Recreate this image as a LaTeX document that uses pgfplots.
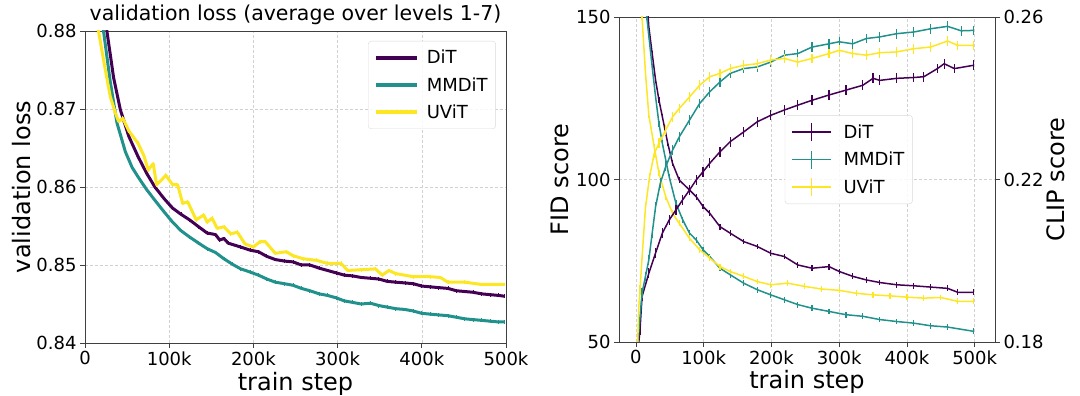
\documentclass[border=0pt]{standalone}
\usepackage{pgfplots}
\pgfplotsset{compat=1.18}
\usepackage{fontspec}
\setmainfont{DejaVu Sans}
\definecolor{cDiT}{HTML}{440154}
\definecolor{cMM}{HTML}{21918C}
\definecolor{cUV}{HTML}{FDE725}
\pgfplotsset{
  base/.style={
    scale only axis,
    anchor=south west,
    /pgf/number format/assume math mode=true,
    tick label style={font=\fontsize{18}{20}\selectfont},
    label style={font=\fontsize{24}{26}\selectfont},
    axis line style={black!75, line width=0.8pt},
    tick style={black!75, line width=0.8pt},
    major tick length=5pt,
    tick align=outside,
    grid=major,
    major grid style={densely dashed, black!18, line width=0.6pt},
  },
}
\begin{document}
\begin{tikzpicture}
\useasboundingbox (0,0) rectangle (1080pt,396pt);
% ---------------- left panel ----------------
\begin{axis}[base,
  at={(85pt,53pt)}, width=421pt, height=312pt,
  xmin=0, xmax=500, ymin=0.84, ymax=0.88,
  xtick={0,100,200,300,400,500},
  xticklabels={0,100k,200k,300k,400k,500k},
  ytick={0.84,0.85,0.86,0.87,0.88},
  yticklabels={0.84,0.85,0.86,0.87,0.88},
  xtick pos=bottom, ytick pos=left,
  xlabel={train step}, ylabel={validation loss},
  xlabel style={at={(axis description cs:0.5,-0.131)}, anchor=center},
  ylabel style={at={(axis description cs:-0.151,0.5)}, anchor=center},
  title={validation loss (average over levels 1-7)},
  title style={font=\fontsize{20.5}{22}\selectfont, yshift=-3pt},
  legend style={at={(0.976,0.968)}, anchor=north east, draw=black!15,
    rounded corners=3pt, font=\fontsize{18}{21}\selectfont,
    row sep=8pt, inner xsep=6pt, inner ysep=7pt, fill=white, fill opacity=0.85, text opacity=1,
    /tikz/every odd column/.append style={column sep=6pt}},
  legend cell align=left,
  legend image code/.code={\draw[#1, line width=3.5pt] (0pt,0pt) -- (41pt,0pt);},
  every axis plot/.append style={line width=3pt, line join=round,
    error bars/y dir=both, error bars/y fixed=0.00025, error bars/error mark=none,
    error bars/error bar style={line width=0.8pt}},
]
\addplot[cDiT, mark=none] coordinates {
(15,0.8950)(26,0.8800)(34,0.8740)(42,0.8699)(52,0.8665)(63,0.8639)(73,0.8618)
(83,0.8600)(94,0.8585)(104,0.8573)(114,0.8565)(124,0.8558)(135,0.8549)
(145,0.8541)(155,0.8539)(160,0.8532)(165,0.8534)(170,0.8528)(185,0.8523)
(196,0.8519)(206,0.8517)(216,0.8511)(226,0.8507)(237,0.8505)(247,0.8504)
(257,0.8500)(267,0.8500)(278,0.8496)(288,0.8493)(298,0.8490)(308,0.8487)
(318,0.8486)(328,0.8484)(339,0.8483)(349,0.8482)(359,0.8479)(369,0.8478)
(380,0.8477)(390,0.8476)(400,0.8473)(410,0.8472)(420,0.8471)(431,0.8470)
(441,0.8467)(451,0.8466)(461,0.8465)(471,0.8463)(481,0.8462)(491,0.8461)(498,0.8460)};
\addlegendentry{DiT}
\addplot[cMM, mark=none] coordinates {
(10,0.8970)(22,0.8800)(30,0.8735)(38,0.8682)(48,0.8645)(56,0.8625)(63,0.8613)
(73,0.8597)(83,0.8583)(94,0.8568)(104,0.8555)(114,0.8544)(124,0.8536)
(135,0.8528)(145,0.8521)(155,0.8516)(165,0.8508)(175,0.8501)(185,0.8495)
(196,0.8491)(206,0.8487)(216,0.8482)(226,0.8478)(237,0.8476)(247,0.8474)
(257,0.8470)(267,0.8467)(278,0.8463)(288,0.8461)(298,0.8458)(308,0.8454)
(318,0.8452)(328,0.8450)(339,0.8451)(349,0.8448)(359,0.8446)(369,0.8444)
(380,0.8443)(390,0.8441)(400,0.8438)(410,0.8437)(420,0.8436)(431,0.8435)
(441,0.8433)(451,0.8431)(461,0.8430)(471,0.8429)(481,0.8428)(491,0.8427)(498,0.8427)};
\addlegendentry{MMDiT}
\addplot[cUV, mark=none] coordinates {
(5,0.9000)(16,0.8800)(23,0.8757)(30,0.8716)(36,0.8695)(40,0.8684)(45,0.8688)
(52,0.8672)(63,0.8656)(70,0.8640)(75,0.8622)(81,0.8630)(85,0.8603)(90,0.8608)
(96,0.8615)(104,0.8603)(110,0.8603)(116,0.8579)(122,0.8581)(132,0.8558)
(141,0.8564)(145,0.8555)(151,0.8560)(157,0.8547)(165,0.8549)(173,0.8540)
(181,0.8542)(190,0.8527)(200,0.8523)(208,0.8530)(214,0.8530)(226,0.8515)
(239,0.8517)(247,0.8512)(259,0.8508)(275,0.8506)(288,0.8502)(304,0.8502)
(312,0.8493)(328,0.8494)(345,0.8495)(353,0.8487)(361,0.8493)(369,0.8489)
(390,0.8485)(410,0.8485)(422,0.8484)(431,0.8478)(451,0.8478)(471,0.8475)(498,0.8475)};
\addlegendentry{UViT}
\end{axis}
% ---------------- right panel: FID ----------------
\begin{axis}[base,
  at={(619pt,54pt)}, width=376pt, height=325pt,
  xmin=-25, xmax=530, ymin=50, ymax=150,
  xtick={0,100,200,300,400,500},
  xticklabels={0,100k,200k,300k,400k,500k},
  ytick={50,100,150},
  xtick pos=bottom, ytick pos=left,
  xlabel={train step}, ylabel={FID score},
  xlabel style={at={(axis description cs:0.5,-0.122)}, anchor=center},
  ylabel style={at={(axis description cs:-0.157,0.5)}, anchor=center},
  every axis plot/.append style={line width=1.5pt, line join=round,
    error bars/y dir=both, error bars/y fixed=0.9, error bars/error mark=none,
    error bars/error bar style={line width=1.2pt}},
]
\addplot[cDiT, mark=none] coordinates {
(10,175)(19,147)(24,138.7)(29,130.6)(34,124.4)(39,119.3)(47,111.1)(54,105)
(64,99.8)(79,96.8)(89,94.7)(99,91.7)(109,89.6)(124,85.5)(139,83.5)(159,80.9)
(179,79.4)(199,77.3)(219,76.3)(239,73.7)(260,72.7)(285,73.2)(300,71.7)
(320,70.2)(340,69.1)(360,68.3)(385,67.6)(410,67.3)(435,66.9)(460,66.5)
(475,65.3)(498,65.3)};
\addplot[cMM, mark=none] coordinates {
(8,175)(16,150)(24,134.6)(29,125.4)(34,117.2)(39,111.1)(44,106)(49,100.9)
(59,92.7)(69,87.6)(79,83.5)(89,81.4)(99,78.4)(109,76.3)(124,72.7)(139,70.7)
(159,68.1)(179,66.1)(199,64.5)(219,63)(239,61.5)(260,60.4)(285,59.4)
(310,58.4)(335,57.9)(360,56.9)(385,56.3)(410,55.8)(435,55.0)(460,54.6)(498,53.3)};
\addplot[cUV, mark=none] coordinates {
(4,175)(9,150)(14,133)(19,119.8)(27,110)(34,101.9)(44,94.7)(54,89.6)(64,86.5)
(79,81.9)(94,78.4)(109,75.8)(124,73.2)(139,71.7)(159,70.2)(179,68.6)
(199,67.6)(224,68.1)(249,67.1)(274,66.3)(300,65.9)(325,65.0)(350,64.5)
(375,64.2)(400,63.8)(425,63.5)(450,63.7)(475,62.5)(498,62.5)};
\end{axis}
% ---------------- right panel: CLIP ----------------
\begin{axis}[base,
  at={(619pt,54pt)}, width=376pt, height=325pt,
  xmin=-25, xmax=530, ymin=0.18, ymax=0.26,
  axis x line=none, axis y line*=right, grid=none,
  ytick={0.18,0.22,0.26},
  yticklabels={0.18,0.22,0.26},
  ylabel={CLIP score},
  ylabel style={at={(axis description cs:1.162,0.5)}, anchor=center},
  legend style={at={(0.441,0.698)}, anchor=north west, draw=black!15,
    rounded corners=3pt, font=\fontsize{18}{21}\selectfont,
    row sep=8pt, inner xsep=6pt, inner ysep=7pt, fill=white, fill opacity=0.85, text opacity=1,
    /tikz/every odd column/.append style={column sep=10pt}},
  legend cell align=left,
  legend image code/.code={\draw[#1, line width=1.5pt] (0pt,0pt) -- (39pt,0pt);
    \draw[#1, line width=1.5pt] (19.5pt,-9pt) -- (19.5pt,9pt);},
  every axis plot/.append style={line width=1.5pt, line join=round,
    error bars/y dir=both, error bars/y fixed=0.0012, error bars/error mark=none,
    error bars/error bar style={line width=1.2pt}},
]
\addplot[cDiT, mark=none] coordinates {
(2,0.176)(6,0.183)(9,0.1912)(19,0.1969)(29,0.2019)(39,0.2068)(49,0.2100)
(59,0.2125)(69,0.2150)(79,0.2174)(89,0.2199)(99,0.2219)(109,0.2240)
(124,0.2268)(139,0.2293)(159,0.2317)(179,0.2342)(199,0.2358)(219,0.2371)
(239,0.2383)(260,0.2395)(285,0.2408)(310,0.2420)(335,0.2432)(350,0.2449)
(360,0.2444)(385,0.2449)(410,0.2451)(425,0.2453)(445,0.2473)(455,0.2485)
(470,0.2473)(498,0.2481)};
\addlegendentry{DiT}
\addplot[cMM, mark=none] coordinates {
(2,0.176)(4,0.1822)(9,0.1920)(14,0.1961)(19,0.2002)(24,0.2068)(29,0.2133)
(36,0.2191)(44,0.2232)(54,0.2272)(64,0.2305)(79,0.2346)(94,0.2387)
(109,0.2416)(124,0.2440)(139,0.2461)(159,0.2473)(179,0.2477)(199,0.2489)
(219,0.2506)(239,0.2510)(260,0.2526)(285,0.2534)(300,0.2539)(320,0.2534)
(340,0.2547)(360,0.2551)(385,0.2559)(410,0.2563)(435,0.2571)(460,0.2577)
(480,0.2566)(498,0.2567)};
\addlegendentry{MMDiT}
\addplot[cUV, mark=none] coordinates {
(2,0.176)(4,0.1880)(6,0.1928)(8.5,0.1994)(14,0.2130)(20,0.2205)(27,0.2264)
(34,0.2289)(44,0.2322)(54,0.2354)(64,0.2375)(79,0.2403)(94,0.2432)
(109,0.2453)(124,0.2461)(139,0.2473)(159,0.2481)(179,0.2485)(199,0.2494)
(219,0.2498)(239,0.2489)(260,0.2498)(285,0.2510)(300,0.2518)(320,0.2510)
(340,0.2506)(360,0.2512)(385,0.2514)(410,0.2522)(435,0.2526)(460,0.2541)
(475,0.2530)(498,0.2530)};
\addlegendentry{UViT}
\end{axis}
\end{tikzpicture}
\end{document}
